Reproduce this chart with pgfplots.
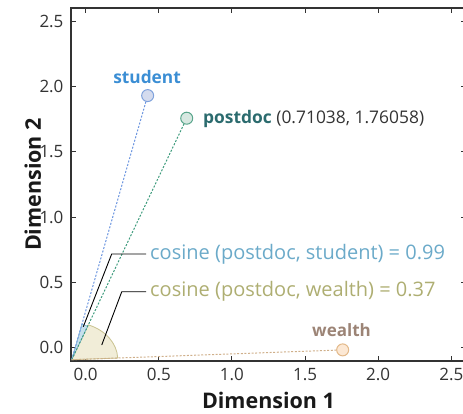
\documentclass[border=0pt]{standalone}
\usepackage{fontspec}
\setmainfont{Open Sans}
\usepackage{pgfplots}
\pgfplotsset{compat=1.18}

\definecolor{axisgray}{HTML}{333333}
\definecolor{studenttxt}{HTML}{3B8ED4}
\definecolor{studentfill}{HTML}{D4DBEE}
\definecolor{studentdraw}{HTML}{7FA2DC}
\definecolor{studentline}{HTML}{6B95DF}
\definecolor{postdoctxt}{HTML}{2B6B6E}
\definecolor{postdocfill}{HTML}{D7E8E1}
\definecolor{postdocdraw}{HTML}{5AA68C}
\definecolor{postdocline}{HTML}{3D9B7C}
\definecolor{wealthtxt}{HTML}{9C8476}
\definecolor{wealthfill}{HTML}{FCE8D4}
\definecolor{wealthdraw}{HTML}{E3B98A}
\definecolor{wealthline}{HTML}{CFAF8A}
\definecolor{cosstudent}{HTML}{6BAAC9}
\definecolor{coswealth}{HTML}{AEAE72}
\definecolor{wedgefill}{HTML}{F1EDD8}
\definecolor{wedgedraw}{HTML}{C9C28F}
\definecolor{bluewedgefill}{HTML}{C6E0EC}
\definecolor{bluewedgedraw}{HTML}{7DB6D3}

\begin{document}
\begin{tikzpicture}
\begin{axis}[
  scale only axis, width=395pt, height=353pt,
  xmin=-0.1, xmax=2.6, ymin=-0.1, ymax=2.6,
  xtick={0,0.5,1,1.5,2,2.5}, ytick={0,0.5,1,1.5,2,2.5},
  tick align=inside, major tick length=5pt,
  axis line style={draw=axisgray, line width=1.1pt},
  tick style={draw=axisgray, line width=0.9pt},
  /pgf/number format/assume math mode=true,
  xticklabel style={/pgf/number format/fixed, /pgf/number format/fixed zerofill, /pgf/number format/precision=1, yshift=-4pt},
  yticklabel style={/pgf/number format/fixed, /pgf/number format/fixed zerofill, /pgf/number format/precision=1, xshift=-4pt},
  tick label style={font=\fontsize{17}{17}\selectfont, text=axisgray},
  xlabel={Dimension 1}, ylabel={Dimension 2},
  label style={font=\bfseries\fontsize{21.5}{21.5}\selectfont, text=black!90, inner sep=0pt},
  xlabel style={at={(axis description cs:0.5,0)}, anchor=base, yshift=-48pt},
  ylabel style={at={(axis description cs:0,0.5)}, anchor=base, yshift=30pt},
  clip=false,
]
  % angle wedges
  \fill[wedgefill, draw=wedgedraw, line width=0.8pt] (axis cs:-0.095,-0.09) -- ++(2:46pt) arc[start angle=2, end angle=69, x radius=46pt, y radius=37pt] -- cycle;
  \fill[bluewedgefill, draw=bluewedgedraw, line width=0.6pt] (axis cs:-0.095,-0.09) -- ++(64.5:37pt) arc[start angle=64.5, end angle=73.9, radius=37pt] -- cycle;

  % vectors
  \addplot[studentline, line width=1pt, dash pattern=on 2pt off 1.6pt] coordinates {(-0.095,-0.09) (0.424,1.930)};
  \addplot[postdocline, line width=1pt, dash pattern=on 2pt off 1.6pt] coordinates {(-0.095,-0.09) (0.691,1.757)};
  \addplot[wealthline, line width=1pt, dash pattern=on 2pt off 1.6pt] coordinates {(-0.095,-0.09) (1.757,-0.015)};

  % word points
  \addplot[only marks, mark=*, mark size=6pt, mark options={fill=studentfill, draw=studentdraw, line width=1pt}] coordinates {(0.424,1.930)};
  \addplot[only marks, mark=*, mark size=6pt, mark options={fill=postdocfill, draw=postdocdraw, line width=1pt}] coordinates {(0.691,1.757)};
  \addplot[only marks, mark=*, mark size=6pt, mark options={fill=wealthfill, draw=wealthdraw, line width=1pt}] coordinates {(1.757,-0.015)};

  % word labels
  \node[font=\bfseries\fontsize{17.3}{17.3}\selectfont, text=studenttxt] at (axis cs:0.42,2.07) {student};
  \node[anchor=west, inner sep=0pt, font=\fontsize{17.4}{17.4}\selectfont, text=axisgray] at (axis cs:0.802,1.751) {\textbf{\textcolor{postdoctxt}{postdoc}} (0.71038, 1.76058)};
  \node[font=\bfseries\fontsize{17}{17}\selectfont, text=wealthtxt] at (axis cs:1.749,0.137) {wealth};

  % leader lines
  \draw[black, line width=0.9pt] (axis cs:-0.016,0.162) -- (axis cs:0.178,0.718) -- (axis cs:0.413,0.718);
  \draw[black, line width=0.9pt] (axis cs:0.110,0.022) -- (axis cs:0.247,0.430) -- (axis cs:0.413,0.430);
  \node[anchor=west, inner sep=0pt, font=\fontsize{20}{20}\selectfont, text=cosstudent] at (axis cs:0.44,0.718) {cosine (postdoc, student) = 0.99};
  \node[anchor=west, inner sep=0pt, font=\fontsize{20}{20}\selectfont, text=coswealth] at (axis cs:0.44,0.430) {cosine (postdoc, wealth) = 0.37};
\end{axis}
\pgfresetboundingbox
\path[use as bounding box] ([xshift=-71pt,yshift=-53pt]current axis.south west) rectangle ([xshift=-3pt,yshift=8pt]current axis.north east);
\end{tikzpicture}
\end{document}
